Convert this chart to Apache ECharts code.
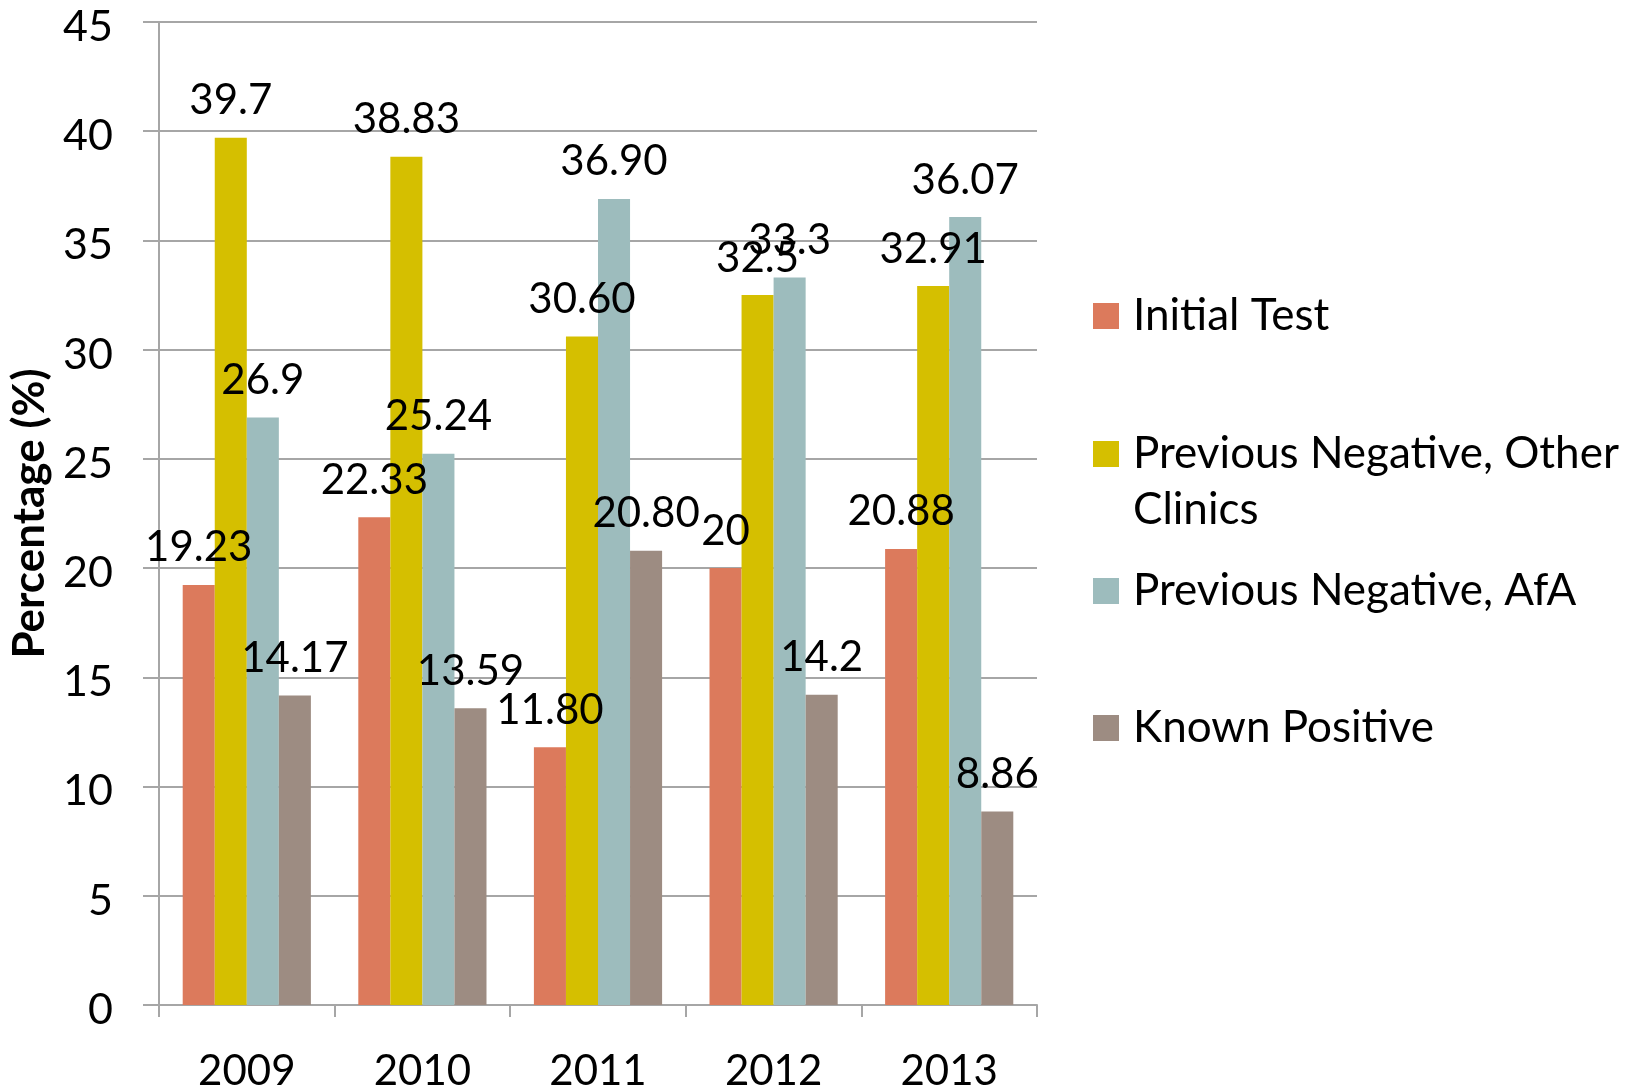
<!DOCTYPE html>
<html>
<head>
<meta charset="utf-8">
<script src="https://cdn.jsdelivr.net/npm/echarts@6/dist/echarts.min.js"></script>
<style>
  html, body { margin: 0; padding: 0; background: #fff; }
  #chart { width: 1640px; height: 1089px; }
</style>
</head>
<body>
<div id="chart"></div>
<script>
// data
var years = ['2009', '2010', '2011', '2012', '2013'];
var seriesNames = ['Initial Test', 'Previous Negative, Other Clinics', 'Previous Negative, AfA', 'Known Positive'];
var initialTest = [19.23, 22.33, 11.80, 20, 20.88];
var prevNegOther = [39.7, 38.83, 30.60, 32.5, 32.91];
var prevNegAfA = [26.9, 25.24, 36.90, 33.3, 36.07];
var knownPositive = [14.17, 13.59, 20.80, 14.2, 8.86];
// labels as printed on the chart
var initialTestLabels = ['19.23', '22.33', '11.80', '20', '20.88'];
var prevNegOtherLabels = ['39.7', '38.83', '30.60', '32.5', '32.91'];
var prevNegAfALabels = ['26.9', '25.24', '36.90', '33.3', '36.07'];
var knownPositiveLabels = ['14.17', '13.59', '20.80', '14.2', '8.86'];
var yTicks = { min: 0, max: 45, interval: 5 };

var colors = ['#DC7A5C', '#D5BF00', '#9DBCBD', '#9D8C82'];
var fontFam = 'Lato, "Open Sans", sans-serif';
var gridColor = '#A6A6A6';

var chart = echarts.init(document.getElementById('chart'), null, { renderer: 'canvas' });

function makeSeries(name, values, labels, color) {
  return {
    name: name,
    type: 'bar',
    barGap: '0%',
    barCategoryGap: '27%',
    itemStyle: { color: color },
    label: {
      show: true,
      position: 'top',
      distance: 16,
      color: '#000',
      fontSize: 42,
      fontFamily: fontFam,
      formatter: function (p) { return labels[p.dataIndex]; }
    },
    data: values
  };
}

function legendAt(name, top, text, lineHeight) {
  return {
    orient: 'vertical',
    left: 1093,
    top: top,
    padding: 0,
    itemWidth: 26,
    itemHeight: 26,
    itemGap: 0,
    icon: 'rect',
    selectedMode: false,
    data: [name],
    formatter: function () { return text; },
    textStyle: {
      fontSize: 44,
      fontFamily: fontFam,
      color: '#000',
      lineHeight: lineHeight || 48,
      padding: [0, 0, 0, 9]
    }
  };
}

chart.setOption({
  animation: false,
  backgroundColor: '#fff',
  textStyle: { fontFamily: fontFam },
  grid: { left: 159, right: 603, top: 22, bottom: 84, containLabel: false, outerBoundsMode: 'none' },
  legend: [
    legendAt(seriesNames[0], 292, 'Initial Test'),
    legendAt(seriesNames[1], 370, '\nPrevious Negative, Other\nClinics', 56),
    legendAt(seriesNames[2], 567, 'Previous Negative, AfA'),
    legendAt(seriesNames[3], 704, 'Known Positive')
  ],
  xAxis: {
    type: 'category',
    data: years,
    axisLine: { show: true, lineStyle: { color: gridColor, width: 2 } },
    axisTick: { show: true, alignWithLabel: false, length: 12, lineStyle: { color: gridColor, width: 2 } },
    axisLabel: { color: '#000', fontSize: 42, fontFamily: fontFam, margin: 45 },
    splitLine: { show: false }
  },
  yAxis: {
    type: 'value',
    min: yTicks.min,
    max: yTicks.max,
    interval: yTicks.interval,
    name: 'Percentage (%)',
    nameLocation: 'middle',
    nameGap: 100,
    nameTextStyle: { color: '#000', fontSize: 44, fontWeight: 'bold', fontFamily: fontFam },
    axisLine: { show: true, lineStyle: { color: gridColor, width: 2 } },
    axisTick: { show: true, length: 16, lineStyle: { color: gridColor, width: 2 } },
    axisLabel: { color: '#000', fontSize: 43, fontFamily: fontFam, margin: 46, verticalAlign: 'top', lineHeight: 10 },
    splitLine: { show: true, lineStyle: { color: gridColor, width: 2 } }
  },
  series: [
    makeSeries(seriesNames[0], initialTest, initialTestLabels, colors[0]),
    makeSeries(seriesNames[1], prevNegOther, prevNegOtherLabels, colors[1]),
    makeSeries(seriesNames[2], prevNegAfA, prevNegAfALabels, colors[2]),
    makeSeries(seriesNames[3], knownPositive, knownPositiveLabels, colors[3])
  ]
});
</script>
</body>
</html>
